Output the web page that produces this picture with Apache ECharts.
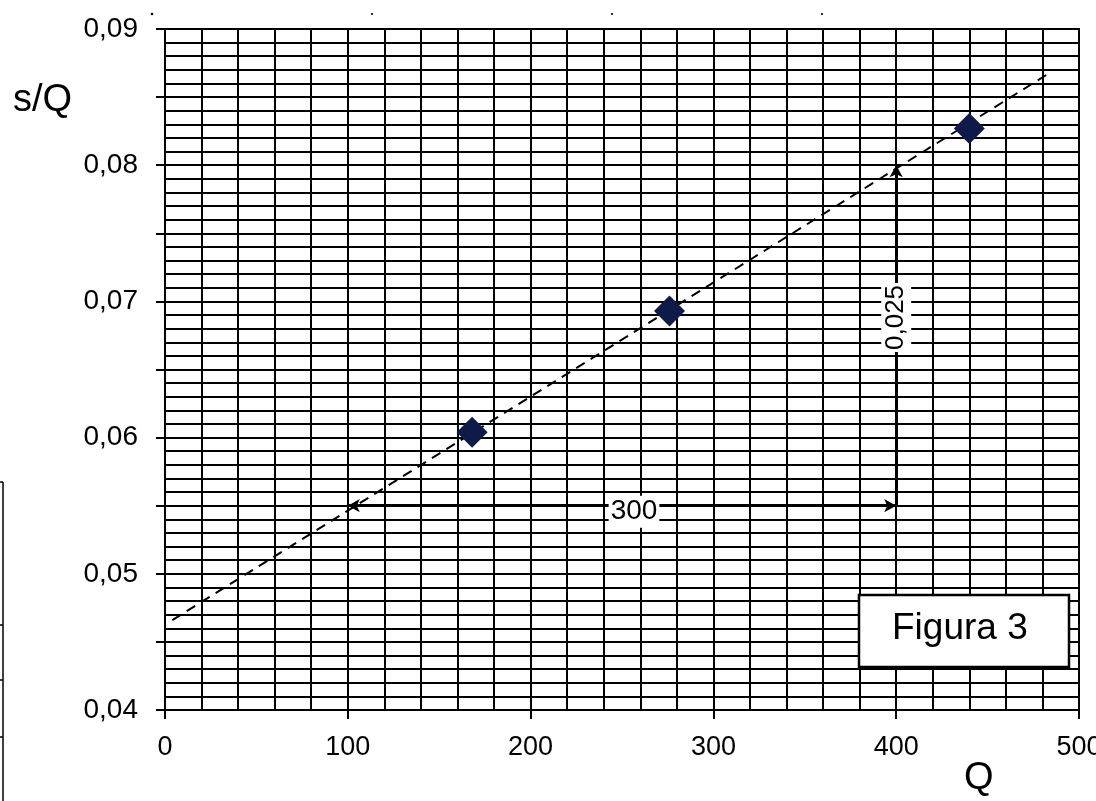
<!DOCTYPE html>
<html>
<head>
<meta charset="utf-8">
<script src="https://cdn.jsdelivr.net/npm/echarts@6/dist/echarts.min.js"></script>
<style>
html,body{margin:0;padding:0;background:#fff;}
#chart{width:1096px;height:801px;}
</style>
</head>
<body>
<div id="chart"></div>
<script>
// ---- data ----
const qValues = [168, 276, 440];
const sqValues = [0.0604, 0.0693, 0.0827];
const trendQ = [4, 483];
const trendSQ = [0.0466, 0.0867];
const runStart = [100, 0.055];
const runEnd = [400, 0.055];
const riseEnd = [400, 0.080];
const runLabel = '300';
const riseLabel = '0,025';
const xTickLabels = ['0', '100', '200', '300', '400', '500'];
const yTickLabels = ['0,04', '0,05', '0,06', '0,07', '0,08', '0,09'];
const xTitle = 'Q';
const yTitle = 's/Q';
const boxText = 'Figura 3';

const FONT = '"Liberation Sans", Arial, sans-serif';
const chart = echarts.init(document.getElementById('chart'), null, {renderer: 'canvas'});

const gridLine = {show: true, lineStyle: {color: '#000', width: 2}};

const option = {
  animation: false,
  backgroundColor: '#fff',
  grid: {left: 165, right: 17, top: 29, bottom: 91, containLabel: false, outerBoundsMode: 'none',
    show: true, borderColor: '#000', borderWidth: 2, backgroundColor: 'transparent'},
  xAxis: [
    {type: 'value', min: 0, max: 500, interval: 20, position: 'bottom',
      axisLine: {show: false}, axisTick: {show: false}, axisLabel: {show: false},
      splitLine: gridLine},
    {type: 'value', min: 0, max: 500, interval: 100, position: 'bottom',
      axisLine: {show: true, onZero: false, lineStyle: {color: '#000', width: 2}},
      axisTick: {show: true, inside: false, length: 9, lineStyle: {color: '#000', width: 2}},
      axisLabel: {show: true, margin: 24, color: '#000', fontFamily: FONT, fontSize: 27,
        formatter: function (v) { return xTickLabels[Math.round(v / 100)] || ''; }},
      splitLine: {show: false}}
  ],
  yAxis: [
    {type: 'value', min: 0.04, max: 0.09, interval: 0.001, position: 'left',
      axisLine: {show: false}, axisTick: {show: false}, axisLabel: {show: false},
      splitLine: gridLine},
    {type: 'value', min: 0.04, max: 0.09, interval: 0.005, position: 'left',
      axisLine: {show: true, onZero: false, lineStyle: {color: '#000', width: 2}},
      axisTick: {show: true, inside: false, length: 9, lineStyle: {color: '#000', width: 2}},
      axisLabel: {show: true, margin: 27, color: '#000', fontFamily: FONT, fontSize: 28,
        formatter: function (v) {
          const k = Math.round(v * 1000);
          if (k % 10 !== 0) return '';
          return yTickLabels[(k - 40) / 10] || '';
        }},
      splitLine: {show: false}}
  ],
  series: [
    {
      type: 'line', xAxisIndex: 1, yAxisIndex: 1,
      data: trendQ.map((q, i) => [q, trendSQ[i]]),
      showSymbol: false, symbol: 'none',
      lineStyle: {color: '#000', width: 2, type: [10, 7]},
      z: 3
    },
    {
      type: 'line', xAxisIndex: 1, yAxisIndex: 1, data: [],
      markLine: {
        silent: true,
        symbol: ['arrow', 'arrow'], symbolSize: [10, 12],
        lineStyle: {color: '#000', width: 3, type: 'solid'},
        label: {show: true},
        data: [
          [{coord: runStart, symbol: 'arrow',
            label: {show: true, position: 'middle', distance: 0, verticalAlign: 'middle', formatter: runLabel,
              offset: [12, 6],
              color: '#000', fontFamily: FONT, fontSize: 28, backgroundColor: '#fff', padding: [2, 2, 2, 2]}},
           {coord: runEnd, symbol: 'arrow'}],
          [{coord: runEnd, symbol: 'none',
            label: {show: true, position: 'middle', distance: 0, verticalAlign: 'middle', formatter: riseLabel,
              offset: [18, 0],
              color: '#000', fontFamily: FONT, fontSize: 26, backgroundColor: '#fff', padding: [2, 2, 2, 2]}},
           {coord: riseEnd, symbol: 'arrow'}]
        ]
      },
      z: 4
    },
    {
      type: 'scatter', xAxisIndex: 1, yAxisIndex: 1,
      data: qValues.map((q, i) => [q, sqValues[i]]),
      symbol: 'diamond', symbolSize: [31, 31],
      itemStyle: {color: '#0e1a47', opacity: 1},
      z: 5
    }
  ],
  graphic: [
    {type: 'text', left: 13, top: 82, style: {text: yTitle, font: '38px ' + FONT, fill: '#000'}},
    {type: 'text', left: 964, top: 760, style: {text: xTitle, font: '38px ' + FONT, fill: '#000'}},
    {type: 'rect', shape: {x: 859, y: 595, width: 210, height: 72},
      style: {fill: '#fff', stroke: '#000', lineWidth: 2.5}, z: 100},
    {type: 'text', left: 892, top: 610, z: 101, style: {text: boxText, font: '37px ' + FONT, fill: '#000'}},
    // scan artefacts at the left edge
    {type: 'line', shape: {x1: 3, y1: 482, x2: 3, y2: 801}, style: {stroke: '#000', lineWidth: 1.5}},
    {type: 'line', shape: {x1: 0, y1: 482, x2: 3, y2: 482}, style: {stroke: '#000', lineWidth: 1.5}},
    {type: 'line', shape: {x1: 0, y1: 625, x2: 3, y2: 625}, style: {stroke: '#000', lineWidth: 1.5}},
    {type: 'line', shape: {x1: 0, y1: 680, x2: 3, y2: 680}, style: {stroke: '#000', lineWidth: 1.5}},
    {type: 'line', shape: {x1: 0, y1: 737, x2: 3, y2: 737}, style: {stroke: '#000', lineWidth: 1.5}},
    {type: 'circle', shape: {cx: 152, cy: 14, r: 1.3}, style: {fill: '#000'}},
    {type: 'circle', shape: {cx: 372, cy: 14, r: 1.1}, style: {fill: '#000'}},
    {type: 'circle', shape: {cx: 612, cy: 14, r: 1.1}, style: {fill: '#000'}},
    {type: 'circle', shape: {cx: 822, cy: 14, r: 1.1}, style: {fill: '#000'}}
  ]
};
chart.setOption(option);
</script>
</body>
</html>
